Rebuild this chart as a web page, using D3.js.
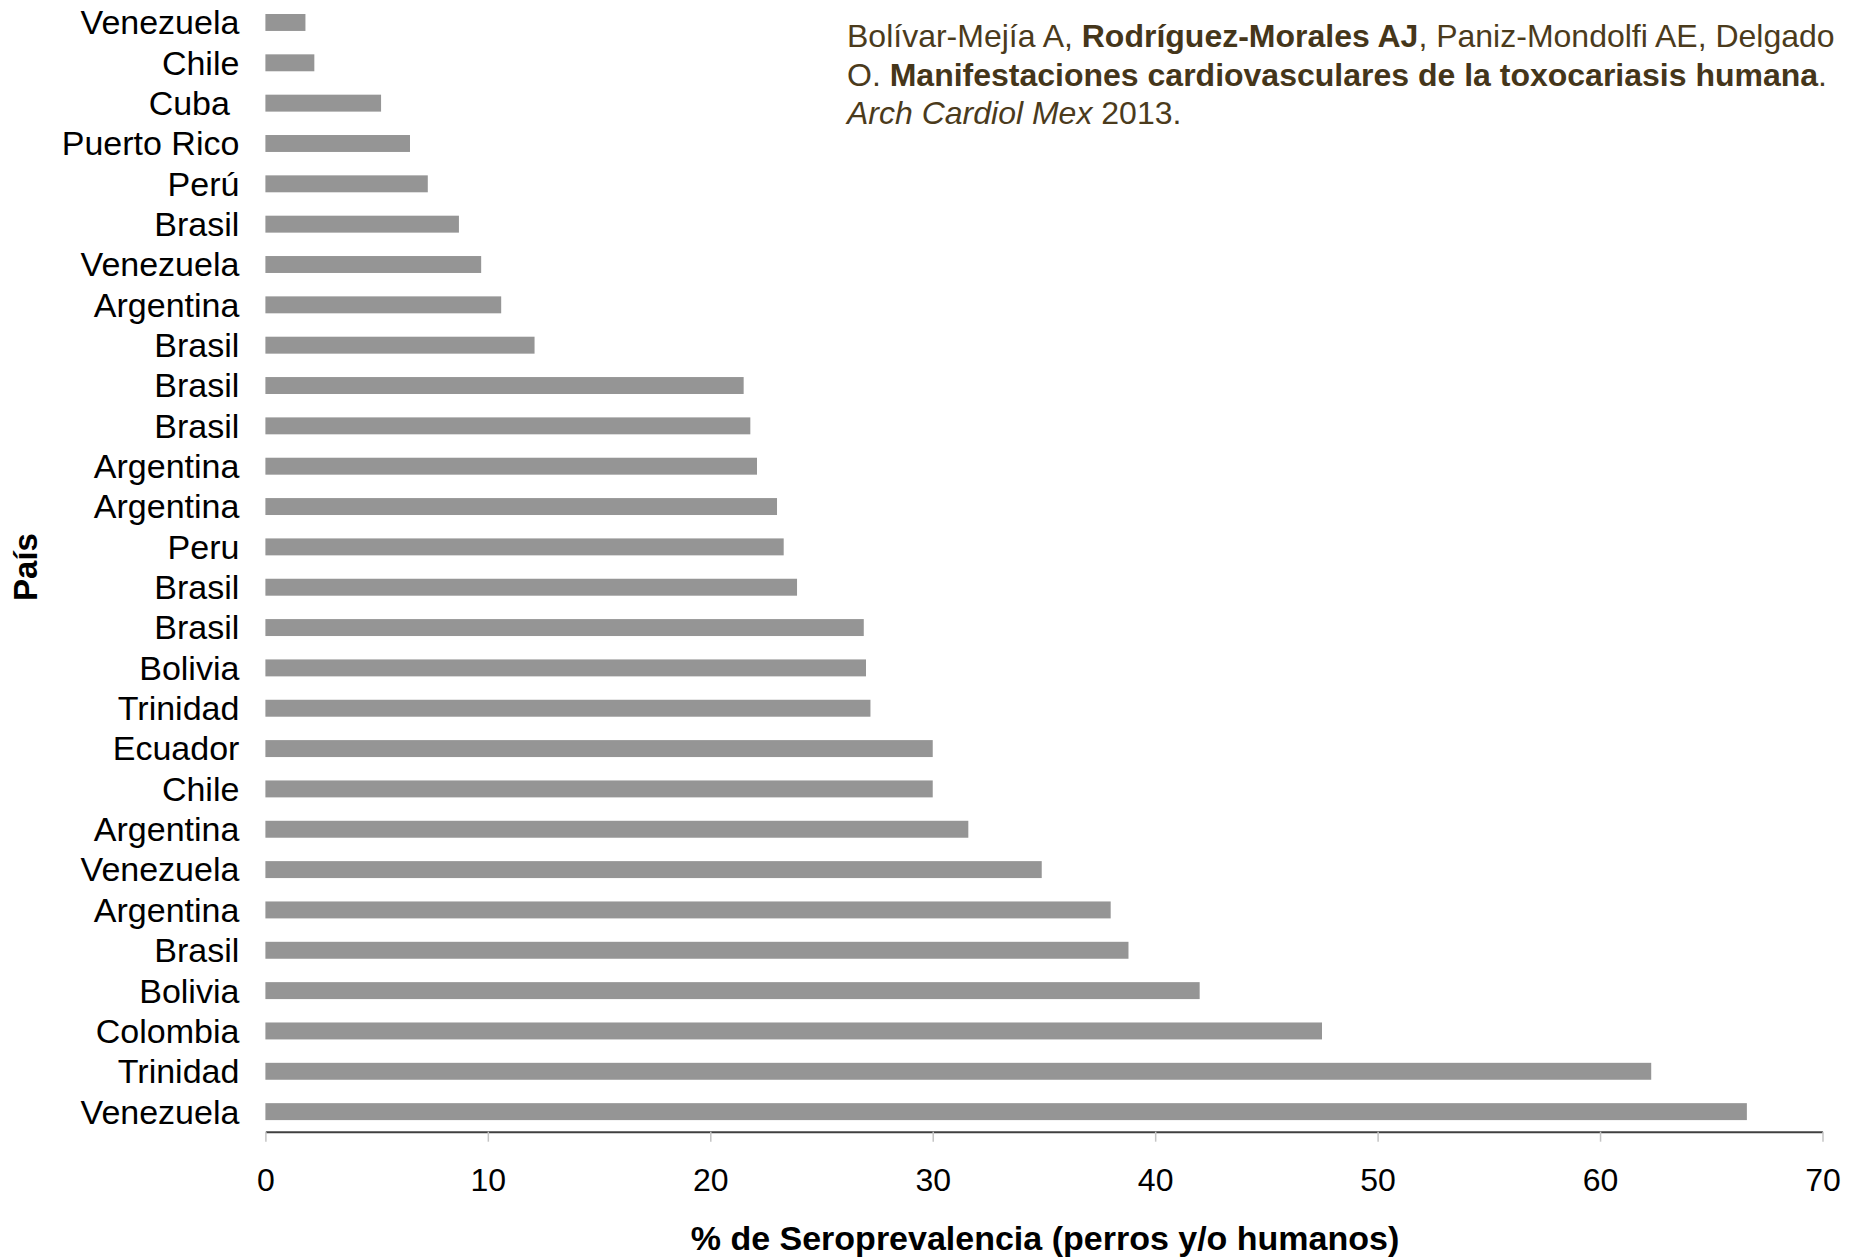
<!DOCTYPE html>
<html>
<head>
<meta charset="utf-8">
<script src="https://cdn.jsdelivr.net/npm/d3@7"></script>
<style>
  html, body { margin: 0; padding: 0; background: #ffffff; }
  svg { display: block; }
  text { font-family: "Liberation Sans", Arial, sans-serif; }
</style>
</head>
<body>
<script>
// ---- Data ----
const countries = ["Venezuela","Chile","Cuba ","Puerto Rico","Perú","Brasil","Venezuela","Argentina","Brasil",
  "Brasil","Brasil","Argentina","Argentina","Peru","Brasil","Brasil","Bolivia","Trinidad","Ecuador","Chile",
  "Argentina","Venezuela","Argentina","Brasil","Bolivia","Colombia","Trinidad","Venezuela"];
const values = [1.8, 2.2, 5.2, 6.5, 7.3, 8.7, 9.7, 10.6, 12.1,
  21.5, 21.8, 22.1, 23.0, 23.3, 23.9, 26.9, 27.0, 27.2, 30.0, 30.0,
  31.6, 34.9, 38.0, 38.8, 42.0, 47.5, 62.3, 66.6];
const xTicks = [0, 10, 20, 30, 40, 50, 60, 70];
const xTitle = "% de Seroprevalencia (perros y/o humanos)";
const yTitle = "País";
const citation = [
  [["Bolívar-Mejía A, ", "normal", "normal"], ["Rodríguez-Morales AJ", "bold", "normal"], [", Paniz-Mondolfi AE, Delgado", "normal", "normal"]],
  [["O. ", "normal", "normal"], ["Manifestaciones cardiovasculares de la toxocariasis humana", "bold", "normal"], [".", "normal", "normal"]],
  [["Arch Cardiol Mex", "normal", "italic"], [" 2013.", "normal", "normal"]]
];

const W = 1858, H = 1258;
const svg = d3.select("body").append("svg").attr("width", W).attr("height", H);

const x = d3.scaleLinear().domain([0, 70]).range([265.4, 1822.5]);
const y = d3.scaleBand().domain(d3.range(values.length)).range([2.3, 1131.8])
  .paddingInner(0.58).paddingOuter(0.29);

// Bars
svg.append("g").selectAll("rect").data(values).join("rect")
  .attr("x", x(0))
  .attr("y", (d, i) => y(i))
  .attr("width", d => x(d) - x(0))
  .attr("height", y.bandwidth())
  .attr("fill", "#959595");

// Category labels
svg.append("g").selectAll("text").data(countries).join("text")
  .attr("x", 239.4)
  .attr("y", (d, i) => y(i) + y.bandwidth() / 2)
  .attr("dy", "0.35em")
  .attr("text-anchor", "end")
  .style("white-space", "pre")
  .attr("font-size", 34)
  .attr("fill", "#000")
  .text(d => d);

// X axis
const xAxis = d3.axisBottom(x).tickValues(xTicks).tickSize(10).tickSizeOuter(0).tickPadding(27)
  .tickFormat(d3.format("d"));
const gx = svg.append("g").attr("transform", "translate(0,1131.7)").call(xAxis);
gx.select(".domain").attr("stroke", "#404040").attr("stroke-width", 2);
gx.selectAll(".tick line").attr("stroke", "#c4c4c4").attr("stroke-width", 1.5);
gx.selectAll(".tick text").attr("font-size", 32).attr("fill", "#000")
  .attr("font-family", "'Liberation Sans', Arial, sans-serif");

// Axis titles
svg.append("text")
  .attr("x", 1045).attr("y", 1250)
  .attr("text-anchor", "middle")
  .attr("font-size", 34).attr("font-weight", "bold").attr("fill", "#000")
  .text(xTitle);

svg.append("text")
  .attr("transform", "translate(37,567) rotate(-90)")
  .attr("text-anchor", "middle")
  .attr("font-size", 33).attr("font-weight", "bold").attr("fill", "#000")
  .text(yTitle);

// Citation
const cit = svg.append("g");
const baselines = [47, 86, 124];
citation.forEach((line, li) => {
  const t = cit.append("text")
    .attr("x", 847).attr("y", baselines[li])
    .attr("font-size", 32).attr("fill", "#4b3b1c");
  line.forEach(([s, w, st]) => {
    t.append("tspan").attr("font-weight", w).attr("font-style", st)
      .attr("fill", w === "bold" ? "#45361a" : "#4b3b1c")
      .style("white-space", "pre").text(s);
  });
});
</script>
</body>
</html>
